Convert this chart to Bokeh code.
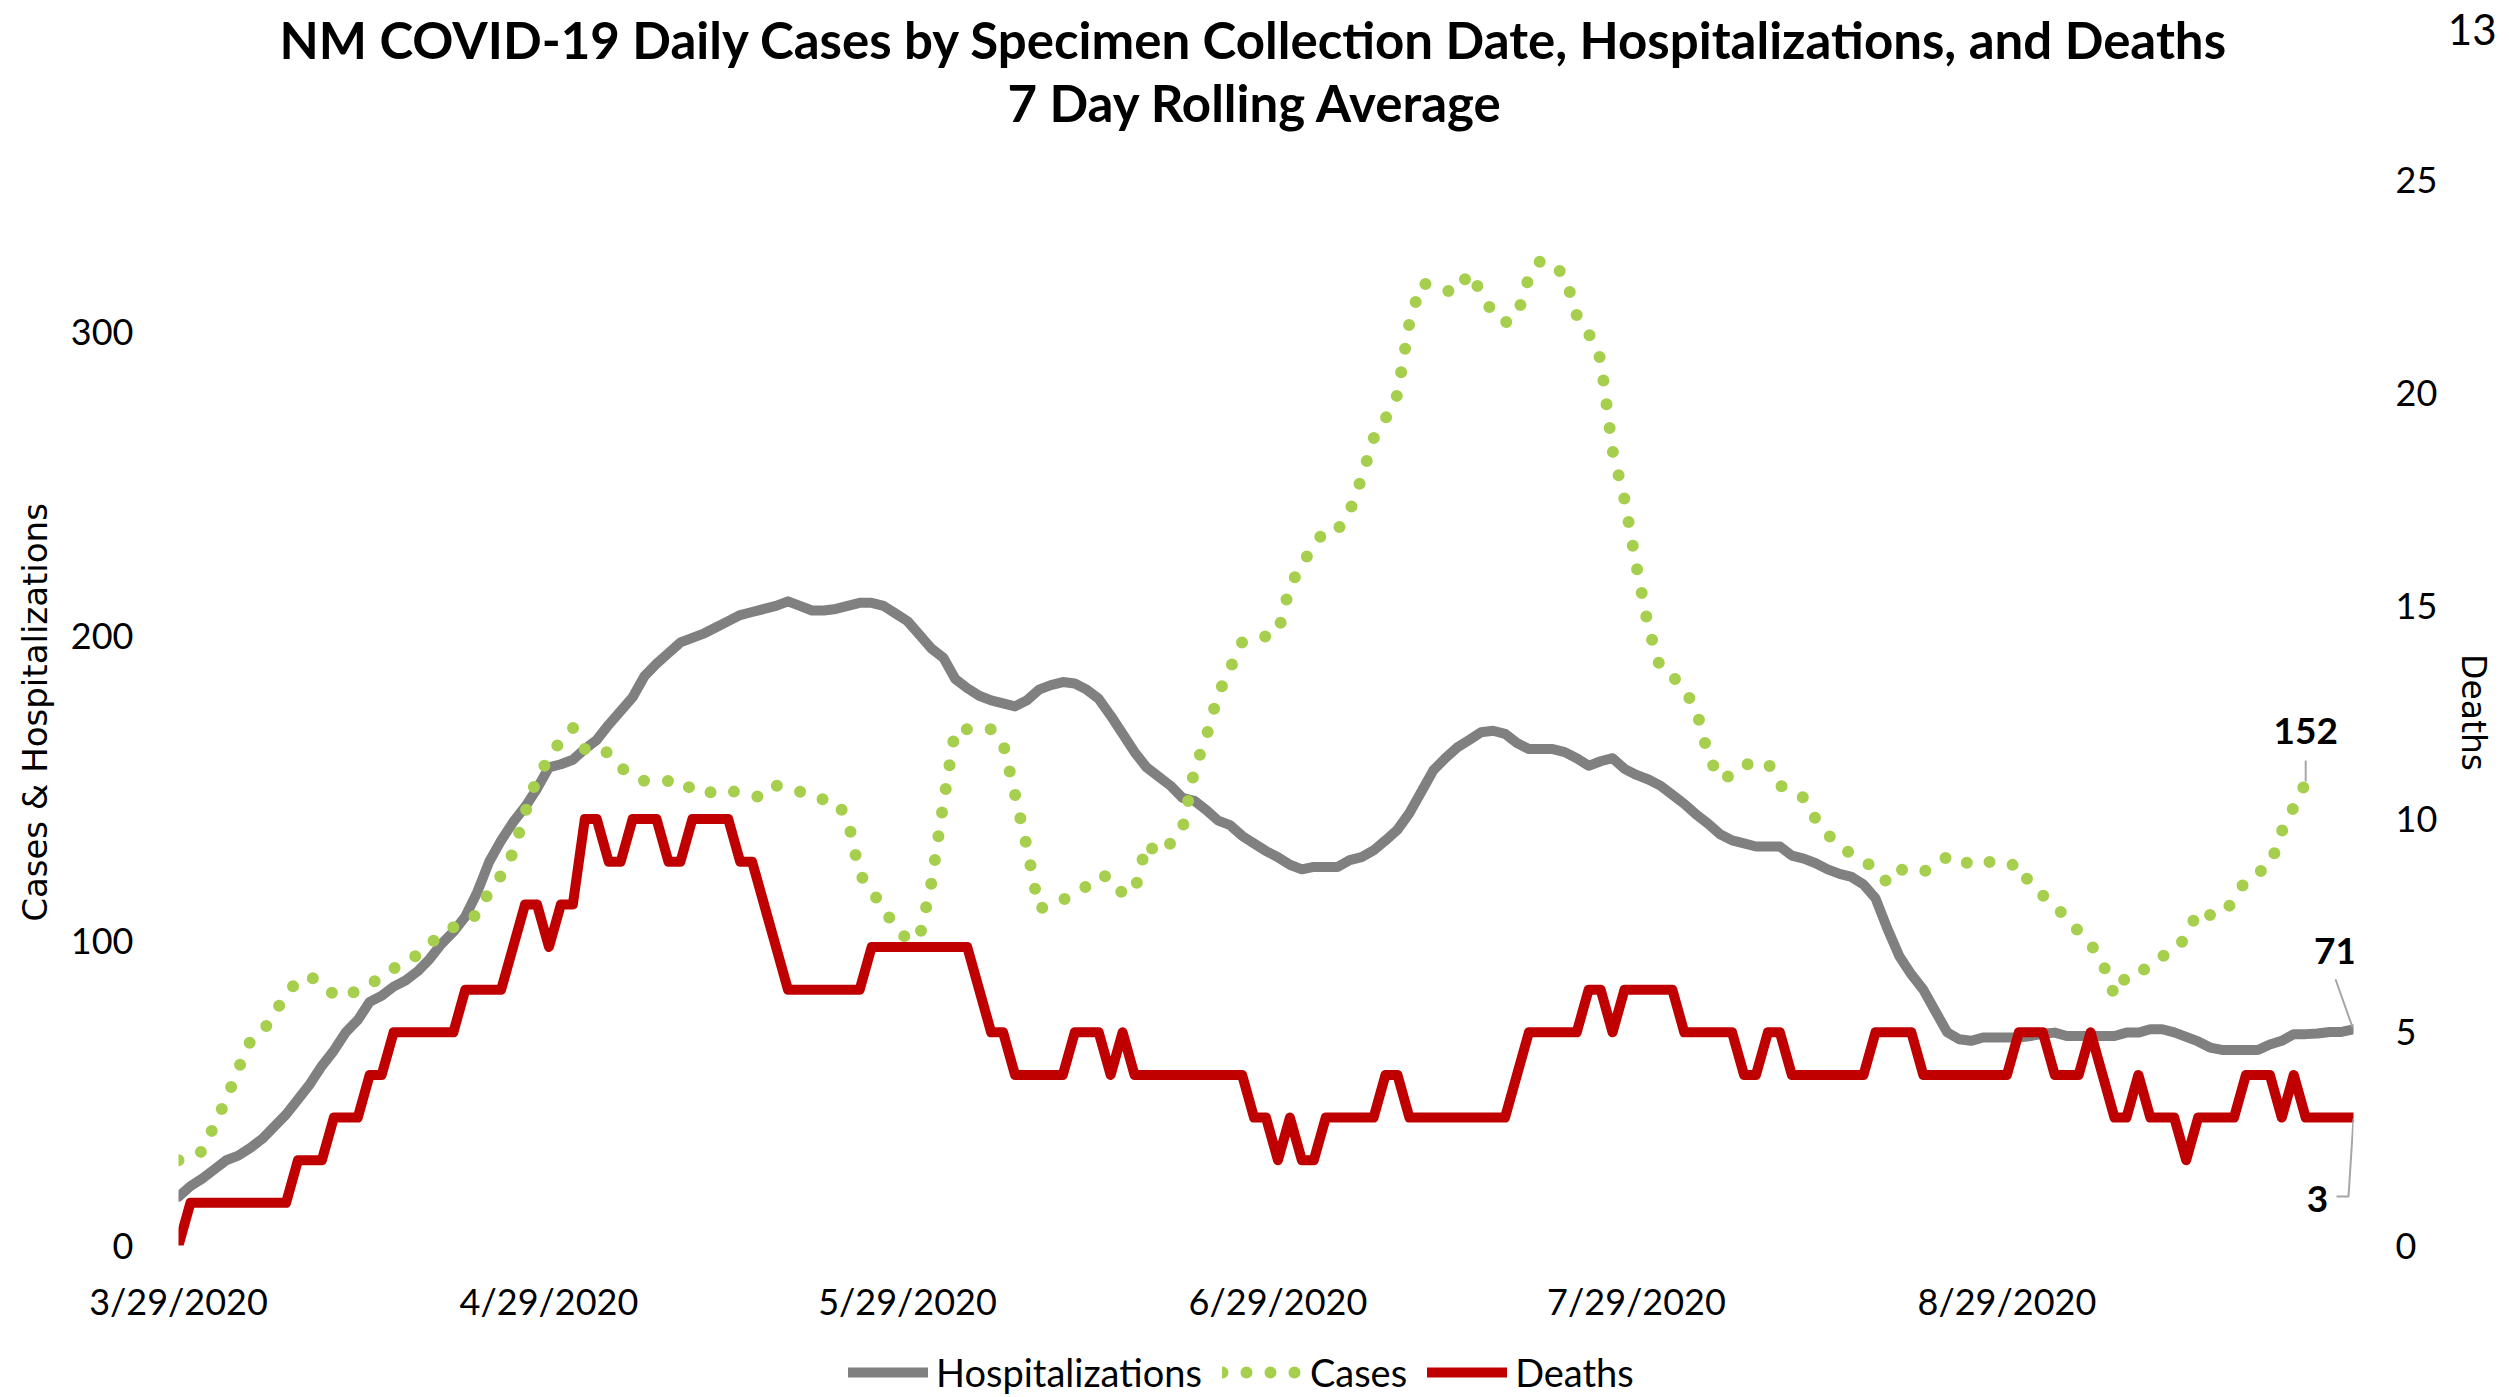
import pandas as pd
from bokeh.plotting import figure
from bokeh.layouts import column
from bokeh.models import (Range1d, LinearAxis, FixedTicker, Label, Legend, LegendItem,
                          ColumnDataSource, Title)
from bokeh.embed import file_html
from bokeh.resources import INLINE

# ---------------- data ----------------
start_date = "2020-03-29"
tick_dates = ["3/29/2020", "4/29/2020", "5/29/2020", "6/29/2020", "7/29/2020", "8/29/2020"]
left_ticks = [0, 100, 200, 300]
right_ticks = [0, 5, 10, 15, 20, 25]

hospitalizations = [
    16, 19.5, 22, 25, 28, 29.5, 32, 35, 39, 43,
    48, 53, 59, 64, 70, 74, 80, 82, 85, 87,
    90, 94, 99, 103, 108, 116, 126, 133, 139, 144,
    150, 157, 158, 159.5, 163, 166, 171, 175.5, 180, 187,
    191, 194.5, 198, 199.5, 201, 203, 205, 207, 208, 209,
    210, 211.5, 210, 208.5, 208.5, 209, 210, 211, 211, 210,
    207.5, 205, 200.5, 196, 193, 186, 183, 180.5, 179, 178,
    177, 179, 182.5, 184, 185, 184.5, 182.5, 179.5, 174, 168,
    162, 157, 154, 151, 147, 146, 143, 139.5, 138, 134.5,
    132, 129.5, 127.5, 125, 123.5, 124.3, 124.3, 124.3, 126.5, 127.5,
    129.7, 133, 136.5, 142, 149, 156, 160, 163.5, 166, 168.5,
    169, 168, 165, 163, 163, 163, 162, 160, 157.5, 159,
    160, 156.5, 154.5, 153, 151, 148, 145, 141.5, 138.5, 135,
    133, 132, 131, 131, 131, 128, 127, 125.5, 123.5, 122,
    121, 118.5, 114, 104, 95, 89, 84, 77, 70, 67.7,
    67.2, 68.3, 68.3, 68.3, 68.3, 68.8, 69.5, 69.9, 68.8, 68.8,
    68.8, 68.8, 68.8, 69.9, 69.9, 71, 71, 70, 68.5, 67,
    65, 64.2, 64.2, 64.2, 64.2, 66, 67.2, 69.4, 69.4, 69.6,
    70.1, 70.1, 71,
]

cases = [
    28, 29, 31, 39.5, 48, 58, 67, 70, 76, 82.5,
    87, 88.5, 85.5, 82.5, 81.5, 84, 85.5, 88.5, 91, 92.5,
    95.5, 99, 102, 104.5, 107, 108.5, 116.4, 121.5, 129, 142,
    153.5, 160, 166, 170, 163, 164, 161.5, 157, 154, 152.5,
    152.5, 152.5, 153, 149.5, 148, 149.5, 149.5, 148.5, 147.5, 147.3,
    151, 150, 149, 147, 146.5, 146, 140, 122, 116.5, 110.5,
    104.5, 100.5, 101, 119, 145, 169.5, 169.5, 169, 169.5, 165,
    148, 130.7, 110.5, 112, 113.5, 115.5, 118, 121.5, 121, 115.5,
    116, 132, 128.5, 132, 136.5, 156, 167, 181, 189.5, 198,
    199, 200, 201, 216.5, 223.5, 230, 235, 235, 241, 252,
    265, 271.5, 279.4, 303, 316, 315, 313.5, 313, 319.5, 313,
    306, 303, 305, 318, 323.5, 322, 318.5, 305.5, 299.5, 291,
    261, 245, 223, 203, 189.5, 187, 182.5, 176, 161, 153,
    154.5, 158, 158, 158.5, 151, 149.5, 147, 140, 135, 131,
    128.5, 126, 124, 119, 123.5, 123, 122.5, 125.5, 127.5, 125,
    126, 127, 125, 124.5, 125.5, 118, 115, 111, 108, 103,
    99, 93, 82, 88.5, 89, 92.5, 95, 96.5, 101.5, 110,
    108.5, 108.5, 113.5, 120, 122.5, 124.5, 136, 144, 152,
]

deaths = [
    0, 1, 1, 1, 1, 1, 1, 1, 1, 1,
    2, 2, 2, 3, 3, 3, 4, 4, 5, 5,
    5, 5, 5, 5, 6, 6, 6, 6, 7, 8,
    8, 7, 8, 8, 10, 10, 9, 9, 10, 10,
    10, 9, 9, 10, 10, 10, 10, 9, 9, 8,
    7, 6, 6, 6, 6, 6, 6, 6, 7, 7,
    7, 7, 7, 7, 7, 7, 7, 6, 5, 5,
    4, 4, 4, 4, 4, 5, 5, 5, 4, 5,
    4, 4, 4, 4, 4, 4, 4, 4, 4, 4,
    3, 3, 2, 3, 2, 2, 3, 3, 3, 3,
    3, 4, 4, 3, 3, 3, 3, 3, 3, 3,
    3, 3, 4, 5, 5, 5, 5, 5, 6, 6,
    5, 6, 6, 6, 6, 6, 5, 5, 5, 5,
    5, 4, 4, 5, 5, 4, 4, 4, 4, 4,
    4, 4, 5, 5, 5, 5, 4, 4, 4, 4,
    4, 4, 4, 4, 5, 5, 5, 4, 4, 4,
    5, 4, 3, 3, 4, 3, 3, 3, 2, 3,
    3, 3, 3, 4, 4, 4, 3, 4, 3, 3,
    3, 3, 3,
]

# ---------------- geometry ----------------
W = 2505
H_MAIN, H_LEGEND = 1350, 45
FL, FT = 178, 179
FRAME_W, FRAME_H = 2175, 1066
FR = W - FL - FRAME_W
FB = H_MAIN - FT - FRAME_H

start = pd.Timestamp(start_date)
n_days = len(hospitalizations)
day_h = list(range(len(hospitalizations)))
day_c = list(range(len(cases)))
day_d = list(range(len(deaths)))
tick_pos = [(pd.to_datetime(t, format="%m/%d/%Y") - start).days for t in tick_dates]

LEFT_MAX, RIGHT_MAX = 350, 25
px_day = FRAME_W / (n_days - 1)
px_left = FRAME_H / LEFT_MAX
px_right = FRAME_H / RIGHT_MAX

p = figure(width=W, height=H_MAIN, output_backend="svg", toolbar_location=None,
           x_range=Range1d(0, n_days - 1), y_range=Range1d(0, LEFT_MAX),
           x_axis_type=None, y_axis_type=None,
           min_border_left=FL, min_border_right=FR, min_border_top=FT, min_border_bottom=FB)
p.extra_y_ranges = {"deaths": Range1d(0, RIGHT_MAX)}
p.outline_line_color = None
p.background_fill_color = "white"
p.border_fill_color = "white"

FONT = "Lato"

def style_axis(ax):
    ax.axis_line_color = None
    ax.major_tick_line_color = None
    ax.minor_tick_line_color = None
    ax.major_tick_out = 0
    ax.major_tick_in = 0
    ax.major_label_text_font = FONT
    ax.major_label_text_font_size = "36px"
    ax.major_label_text_color = "#000000"
    ax.axis_label_text_font = "DejaVu Sans"
    ax.axis_label_text_font_size = "34px"
    ax.axis_label_text_font_style = "normal"
    ax.axis_label_text_color = "#000000"

xaxis = LinearAxis(ticker=FixedTicker(ticks=tick_pos),
                   major_label_overrides={pos: lab for pos, lab in zip(tick_pos, tick_dates)})
style_axis(xaxis)
xaxis.major_label_standoff = 33
p.add_layout(xaxis, "below")

yleft = LinearAxis(ticker=FixedTicker(ticks=left_ticks), axis_label="Cases & Hospitalizations")
style_axis(yleft)
yleft.major_label_standoff = 45
yleft.axis_label_standoff = 13
p.add_layout(yleft, "left")

yright = LinearAxis(y_range_name="deaths", ticker=FixedTicker(ticks=right_ticks), axis_label="Deaths")
style_axis(yright)
yright.axis_label_text_font_size = "33px"
yright.major_label_standoff = 42
yright.axis_label_standoff = 14
p.add_layout(yright, "right")

# ---------------- series ----------------
src_h = ColumnDataSource(dict(day=day_h, date=[start + pd.Timedelta(days=d) for d in day_h], value=hospitalizations))
src_c = ColumnDataSource(dict(day=day_c, date=[start + pd.Timedelta(days=d) for d in day_c], value=cases))
src_d = ColumnDataSource(dict(day=day_d, date=[start + pd.Timedelta(days=d) for d in day_d], value=deaths))

GRAY, GREEN, RED = "#808080", "#A5CF4C", "#C00000"
STY_H = dict(line_color=GRAY, line_width=10, line_join="round", line_cap="round")
STY_C = dict(line_color=GREEN, line_width=12, line_dash="0 24", line_cap="round", line_join="round")
STY_D = dict(line_color=RED, line_width=10, line_join="round", line_cap="round")

r_h = p.line("day", "value", source=src_h, **STY_H)
r_c = p.line("day", "value", source=src_c, **STY_C)
r_d = p.line("day", "value", source=src_d, y_range_name="deaths", **STY_D)

# ---------------- data labels with leader lines ----------------
LEADER = "#A6A6A6"
LBL = dict(text_font=FONT, text_font_size="37px", text_font_style="bold",
           text_color="#000000", text_align="center", text_baseline="alphabetic")

xc, yc = day_c[-1], cases[-1]
p.line([xc, xc], [yc + 1 / px_left, yc + 22 / px_left], line_color=LEADER, line_width=2)
p.add_layout(Label(x=xc, y=yc + 52 / px_left, text=f"{yc:.0f}", **LBL))

xh, yh = day_h[-1], hospitalizations[-1]
p.line([xh - 18 / px_day, xh - 1 / px_day], [yh + 50 / px_left, yh + 2 / px_left],
       line_color=LEADER, line_width=2)
p.add_layout(Label(x=xh - 18 / px_day, y=yh + 78 / px_left, text=f"{yh:.0f}", **LBL))

xd, yd = day_d[-1], deaths[-1]
p.line([xd - 17 / px_day, xd - 5 / px_day, xd], [yd - 79 / px_right, yd - 79 / px_right, yd - 1 / px_right],
       y_range_name="deaths", line_color=LEADER, line_width=2)
p.add_layout(Label(x=xd - 36 / px_day, y=yd - 81 / px_right, y_range_name="deaths",
                   text=f"{yd:.0f}", **LBL))

# ---------------- titles (stacked panels above the frame) ----------------
TSTYLE = dict(text_font=FONT, text_font_size="51px", text_font_style="bold",
              text_color="#000000", align="left", vertical_align="bottom")
p.add_layout(Title(text=" ", text_font=FONT, text_font_size="10px", standoff=16.6,
                   vertical_align="bottom"), "above")
p.add_layout(Title(text="7 Day Rolling Average", standoff=30.8, offset=829, **TSTYLE), "above")
p.add_layout(Title(text="NM COVID-19 Daily Cases by Specimen Collection Date, Hospitalizations, and Deaths",
                   standoff=-30, offset=101, **TSTYLE), "above")
p.add_layout(Title(text="13", text_font=FONT, text_font_size="42px", text_font_style="normal",
                   text_color="#000000", align="right", vertical_align="bottom",
                   offset=-143, standoff=-47.6), "above")

# ---------------- legend (own strip below the chart) ----------------
lg = figure(width=W, height=H_LEGEND, output_backend="svg", toolbar_location=None,
            x_range=Range1d(0, 1), y_range=Range1d(0, 1), x_axis_type=None, y_axis_type=None,
            min_border=0, min_border_left=0, min_border_right=0, min_border_top=0, min_border_bottom=0)
lg.outline_line_color = None
lg.background_fill_color = "white"
lg.border_fill_color = "white"
nan = float("nan")
lg_h = lg.line([nan, nan], [nan, nan], **STY_H)
lg_c = lg.line([nan, nan], [nan, nan], **STY_C)
lg_d = lg.line([nan, nan], [nan, nan], **STY_D)
legend = Legend(items=[LegendItem(label="Hospitalizations", renderers=[lg_h]),
                       LegendItem(label="Cases", renderers=[lg_c]),
                       LegendItem(label="Deaths", renderers=[lg_d])],
                orientation="horizontal", location=(848 - FL, 0),
                border_line_color=None, background_fill_alpha=0,
                padding=0, margin=0, spacing=20, glyph_width=80, glyph_height=20,
                label_standoff=8, label_text_font=FONT, label_text_font_size="38px",
                label_text_color="#000000", label_text_baseline="middle")
lg.add_layout(legend)

layout = column(p, lg, spacing=0)
open("out.html", "w").write(file_html(layout, INLINE))
